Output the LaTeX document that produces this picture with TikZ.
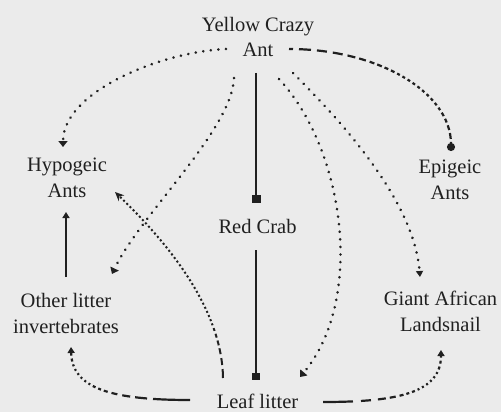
\documentclass[tikz,border=0pt]{standalone}
\usepackage{fontspec}
\setmainfont{Liberation Serif}
\usetikzlibrary{arrows.meta,calc}
\definecolor{bg}{RGB}{235,235,235}
\definecolor{ink}{RGB}{32,32,32}
\def\dotsfour{on 2pt off 2.5pt on 2pt off 2.5pt on 2pt off 2.5pt on 2pt off 2.5pt }
\def\dotsxvi{\dotsfour\dotsfour\dotsfour\dotsfour}
\tikzset{
  lbl/.style={font=\fontsize{20.5}{25.5}\selectfont, align=center, inner sep=0pt, text=ink, anchor=base},
  sline/.style={draw=ink, line width=2pt},
  dotline/.style={draw=ink, line width=2.8pt, line cap=round, dash pattern=on 0.1pt off 7.5pt},
  gline/.style={draw=ink, line width=2.2pt},
  vtip/.style={-{Triangle[width=9pt,length=6pt]}},
  stip/.style={-{Triangle[width=7pt,length=6pt]}}
}
\begin{document}
\begin{tikzpicture}[x=1pt,y=-1pt]
\fill[bg] (0,0) rectangle (501,412);
\useasboundingbox (0,0) rectangle (501,412);

% base anchor = baseline of the last line
\node[lbl] (yca) at (258,57) {Yellow Crazy\\Ant};
\node[lbl] (hyp) at (67,197) {Hypogeic\\Ants};
\node[lbl] (epi) at (450,199) {Epigeic\\Ants};
\node[lbl] (crab) at (257.5,233) {Red Crab};
\node[lbl] (oth) at (66,333) {Other litter\\invertebrates};
\node[lbl] (snail) at (440.5,331) {Giant African\\Landsnail};
\node[lbl] (leaf) at (257.5,408) {Leaf litter};

% solid links
\draw[sline,-{Square[length=8pt,width=9pt]}] ($(yca.base)+(-2,16)$) -- ($(crab.base)+(-1.5,-30)$);
\draw[sline,-{Square[length=7pt,width=8pt]}] ($(crab.base)+(-1.5,17)$) -- ($(leaf.base)+(-1.5,-28)$);
\draw[sline,stip] ($(oth.base)+(0,-56)$) -- ($(hyp.base)+(-1,15)$);

% graded dashed links
\draw[gline, line width=2pt, dash pattern/.expanded={on 9pt off 4pt on 7pt off 4pt on 6pt off 3pt on 5pt off 3pt on 4pt off 3pt on 3pt off 3pt \dotsxvi\dotsxvi\dotsfour\dotsfour}, -{Stealth[length=9pt,width=8pt]}]
  ($(leaf.base)+(-34.5,-30)$) .. controls (222,310) and (170,245) .. ($(hyp.base)+(48,-5)$);
\draw[gline, dash pattern=on 37pt off 6pt on 12pt off 5pt on 8pt off 5pt on 6pt off 4pt on 4pt off 3pt on 3pt off 3pt on 3pt off 3pt on 2pt off 3pt on 2pt off 3pt on 2pt off 3pt on 2pt off 3pt on 2pt off 3pt on 2pt off 3pt on 3pt off 3pt on 3pt off 3pt on 4pt off 3pt on 8pt off 2pt, stip]
  ($(leaf.base)+(-67.5,-8)$) .. controls (110,400) and (72,388) .. ($(oth.base)+(5,14)$);
\draw[gline, dash pattern=on 30pt off 8pt on 10pt off 7pt on 8pt off 4pt on 6pt off 4pt on 4pt off 3pt on 3pt off 3pt on 3pt off 3pt on 2pt off 3pt on 2pt off 3pt on 2pt off 3pt on 2pt off 3pt on 2pt off 3pt on 2pt off 3pt on 3pt off 3pt on 3pt off 3pt on 4pt off 3pt on 8pt off 2pt, stip]
  ($(leaf.base)+(65.5,-6)$) .. controls (400,402) and (441,392) .. ($(snail.base)+(0.5,19)$);
\draw[gline, dash pattern=on 4pt off 6pt on 12pt off 6pt on 10pt off 6pt on 10pt off 5pt on 8pt off 4pt on 7pt off 4pt on 5pt off 3pt on 5pt off 3pt on 4pt off 3pt on 4pt off 3pt on 3pt off 3pt on 3pt off 3pt on 3pt off 3pt on 3pt off 3pt on 3pt off 3pt on 3pt off 3pt on 3pt off 3pt on 3pt off 3pt on 3pt off 3pt on 3pt off 3pt on 4pt off 3pt on 4pt off 3pt on 5pt off 3pt on 6pt off 3pt on 8pt off 2pt, -{Circle[length=8pt]}]
  ($(yca.base)+(31,-8)$) .. controls (378,49) and (451,92) .. ($(epi.base)+(1,-48)$);

% dotted links
\draw[dotline,vtip] ($(yca.base)+(-32,-8)$) .. controls (160,52) and (63,92) .. ($(hyp.base)+(-4,-50)$);
\draw[dotline,vtip] ($(yca.base)+(-24,21)$) .. controls (232,130) and (140,215) .. ($(oth.base)+(46,-59)$);
\draw[dotline,vtip] ($(yca.base)+(21,22)$) .. controls (345,150) and (365,300) .. ($(leaf.base)+(42.5,-31)$);
\draw[dotline,stip] ($(yca.base)+(35,16)$) .. controls (340,120) and (414,200) .. ($(snail.base)+(-20.5,-54)$);
\end{tikzpicture}
\end{document}
